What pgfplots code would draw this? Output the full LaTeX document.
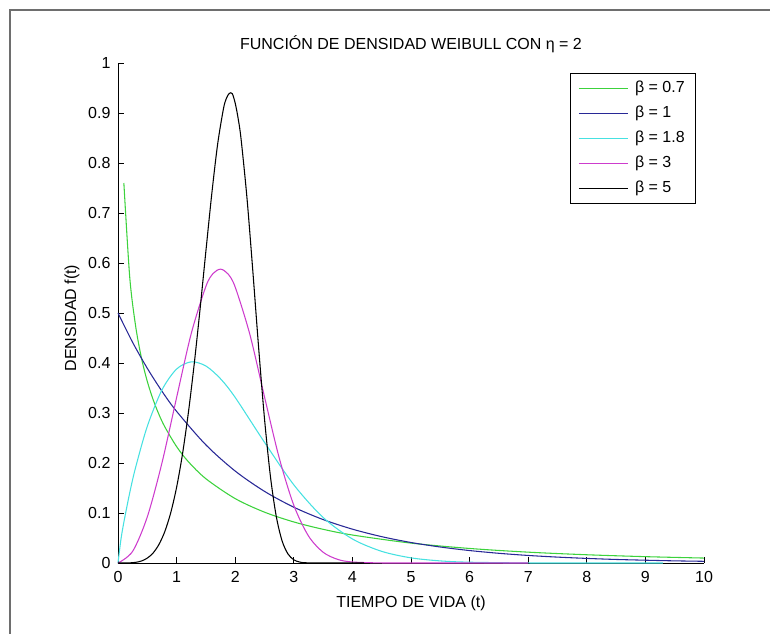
\documentclass[border=0pt]{standalone}
\usepackage{fontspec}
\setmainfont{Liberation Sans}
\usepackage{pgfplots}
\pgfplotsset{compat=1.18}
\definecolor{cgreen}{RGB}{60,210,60}
\definecolor{cblue}{RGB}{40,40,150}
\definecolor{ccyan}{RGB}{70,225,225}
\definecolor{cmag}{RGB}{205,60,205}
\definecolor{frame}{RGB}{110,110,110}
\begin{document}
\fontsize{12}{14.4}\selectfont
\begin{tikzpicture}
\useasboundingbox (-88.5pt,-52.5pt) rectangle (489pt,422.25pt);
\draw[line width=1.1pt, color=frame] (-81pt,-60pt) -- (-81pt,414.75pt) -- (495pt,414.75pt);
\begin{axis}[
  scale only axis, width=439.5pt, height=375pt,
  xmin=0, xmax=10, ymin=0, ymax=1,
  clip=false,
  axis lines=left, axis line style={-, line width=0.7pt, black},
  tick align=inside, major tick length=4.5pt,
  tick style={black, line width=0.6pt},
  /pgf/number format/assume math mode=true,
  xtick={0,1,2,3,4,5,6,7,8,9,10},
  xticklabels={0,1,2,3,4,5,6,7,8,9,10},
  ytick={0,0.1,0.2,0.3,0.4,0.5,0.6,0.7,0.8,0.9,1},
  yticklabels={0,0.1,0.2,0.3,0.4,0.5,0.6,0.7,0.8,0.9,1},
  xticklabel style={yshift=-2pt},
  yticklabel style={xshift=-1.5pt},
  title={FUNCIÓN DE DENSIDAD WEIBULL CON η = 2},
  title style={at={(axis description cs:0.5,1)}, anchor=base, yshift=4pt},
  xlabel={TIEMPO DE VIDA (t)},
  xlabel style={at={(axis description cs:0.5,0)}, anchor=base, yshift=-33pt},
  ylabel={DENSIDAD f(t)},
  ylabel style={at={(axis description cs:-0.0716,0.49)}, anchor=base, rotate=0},
  legend style={at={(0.986,0.98)}, anchor=north east, draw=black, line width=0.6pt,
    fill=white, inner xsep=6pt, inner ysep=4pt, row sep=4.2pt, column sep=3pt,
    cells={anchor=west}},
  legend image code/.code={\draw[#1, line width=0.75pt] (0pt,0pt) -- (36.75pt,0pt);},
  every axis plot/.append style={line width=0.8pt},
]
\addplot[cgreen, smooth] coordinates {
(0.1,0.760) (0.2,0.572) (0.3,0.4745) (0.4,0.4102) (0.5,0.3632) (0.6,0.3266)
(0.7,0.2968) (0.8,0.2721) (1.0,0.2328) (1.2,0.2027) (1.5,0.1685) (2,0.1288)
(2.5,0.1017) (3,0.0821) (3.5,0.0674) (4,0.0560) (5,0.0398) (6,0.0291)
(7,0.0217) (8,0.0165) (9,0.0127) (10,0.0099)};
\addlegendentry{β = 0.7}
\addplot[cblue, smooth] coordinates {
(0,0.5) (0.25,0.4412) (0.5,0.3894) (0.75,0.3436) (1,0.3033) (1.5,0.2362) (2,0.1839)
(2.5,0.1433) (3,0.1116) (3.5,0.0869) (4,0.0677) (4.5,0.0527) (5,0.0410)
(5.5,0.0320) (6,0.0249) (6.5,0.0194) (7,0.0151) (7.5,0.0118) (8,0.0092)
(8.5,0.0071) (9,0.0056) (9.5,0.0043) (10,0.0034)};
\addlegendentry{β = 1}
\addplot[ccyan, smooth] coordinates {
(0,0) (0.05,0.0471) (0.1,0.0815) (0.2,0.1404) (0.3,0.1909) (0.5,0.2734)
(0.75,0.3461) (1,0.3879) (1.25,0.4023) (1.5,0.3940) (1.75,0.3684) (2,0.3311)
(2.5,0.2414) (3,0.1564) (3.5,0.0911) (4,0.0481) (4.5,0.0233) (5,0.0103)
(5.5,0.0042) (6,0.0016) (7,0.0001) (8,0) (9.3,0)};
\addlegendentry{β = 1.8}
\addplot[cmag, smooth] coordinates {
(0,0) (0.25,0.0234) (0.5,0.0923) (0.75,0.2001) (1,0.3309) (1.25,0.4590)
(1.5,0.5533) (1.625,0.5792) (1.75,0.5877) (1.875,0.5784) (2,0.5518)
(2.25,0.4572) (2.5,0.3323) (2.75,0.2107) (3,0.1155) (3.25,0.0542)
(3.5,0.0216) (3.75,0.0072) (4,0.0020) (4.5,0.0001) (5,0) (7,0)};
\addlegendentry{β = 3}
\addplot[black, smooth] coordinates {
(0,0) (0.1,0) (0.2,0.0003) (0.3,0.0013) (0.4,0.0040) (0.5,0.0098) (0.6,0.0202)
(0.7,0.0373) (0.8,0.0633) (0.9,0.1006) (1.0,0.1514) (1.1,0.2175) (1.2,0.2998)
(1.3,0.3974) (1.4,0.5074) (1.5,0.6239) (1.6,0.7379) (1.7,0.8374) (1.8,0.9088)
(1.85,0.9294) (1.9,0.9393) (1.95,0.9386) (2.0,0.9197) (2.05,0.8893) (2.1,0.8481)
(2.2,0.7313) (2.3,0.5851)
(2.4,0.4305) (2.5,0.2886) (2.6,0.1743) (2.7,0.0937) (2.8,0.0443) (2.9,0.0182)
(3.0,0.0064) (3.1,0.0019) (3.2,0.0005) (3.5,0) (4.2,0)};
\addlegendentry{β = 5}
\end{axis}
\end{tikzpicture}
\end{document}
